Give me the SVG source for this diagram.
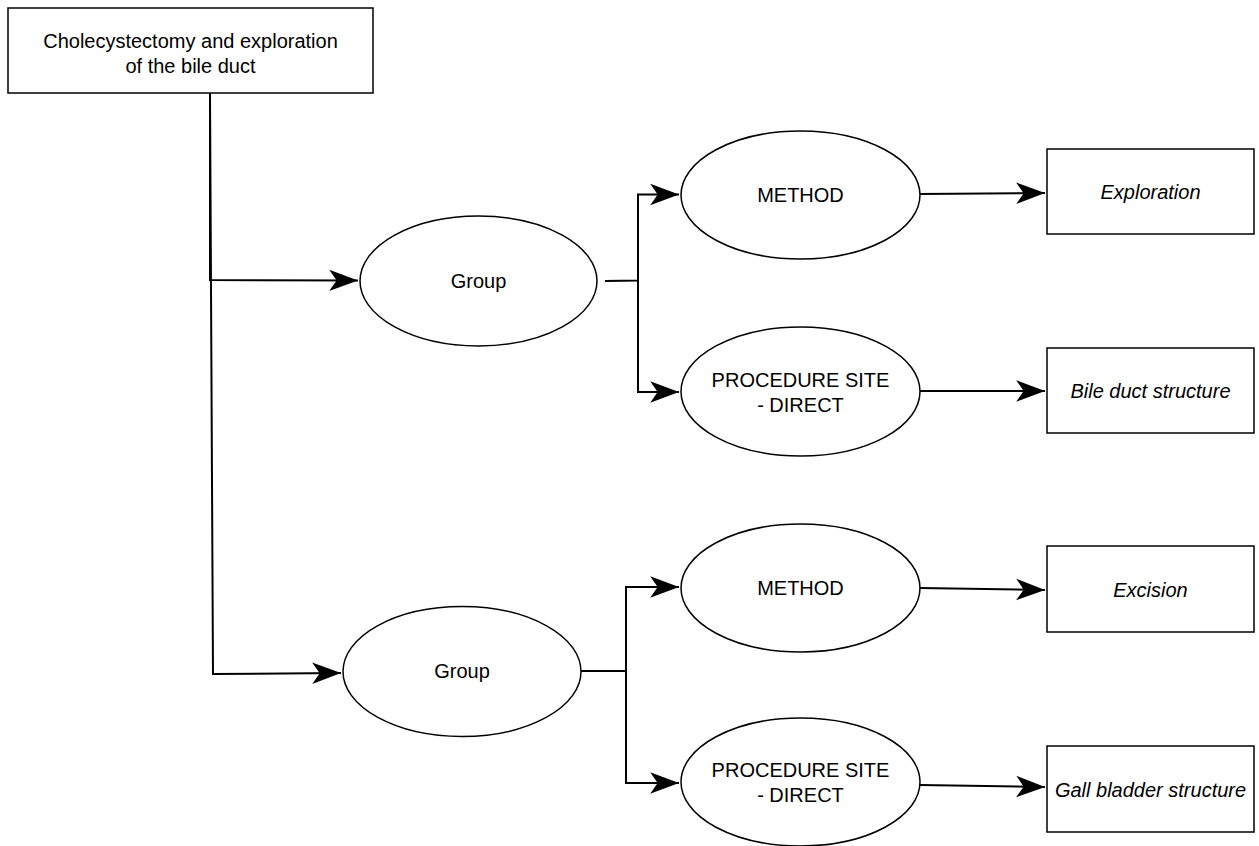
<svg xmlns="http://www.w3.org/2000/svg" width="1259" height="846" viewBox="0 0 1259 846">
<defs>
<style>
.n{fill:#fff;stroke:#000;stroke-width:1.5}
.t{font-family:"Liberation Sans",Arial,sans-serif;font-size:20px;fill:#000;text-anchor:middle}
.i{font-style:italic}
.c{fill:none;stroke:#000;stroke-width:2}
</style>
<marker id="ah" markerUnits="userSpaceOnUse" markerWidth="32" markerHeight="32" viewBox="-28 -11 30 22" refX="0" refY="0" orient="auto">
<path d="M0,0 L-27,-10 L-20,0 L-27,10 Z" fill="#000"/>
</marker>
</defs>
<rect width="1259" height="846" fill="#fff"/>
<g id="connectors">
<polyline class="c" points="210,93 210,280 358,280.5" marker-end="url(#ah)"/>
<polyline class="c" points="210,93 213,674 341,673" marker-end="url(#ah)"/>
<polyline class="c" points="605,281 638,280.5 638,194.5 679,194.5" marker-end="url(#ah)"/>
<polyline class="c" points="638,280.5 638,392 679,392" marker-end="url(#ah)"/>
<polyline class="c" points="581,671 626,671 626,587 679,587" marker-end="url(#ah)"/>
<polyline class="c" points="626,671 626,783 679,783" marker-end="url(#ah)"/>
<line class="c" x1="920" y1="194" x2="1045" y2="193" marker-end="url(#ah)"/>
<line class="c" x1="920" y1="391" x2="1045" y2="391" marker-end="url(#ah)"/>
<line class="c" x1="920" y1="588" x2="1045" y2="590" marker-end="url(#ah)"/>
<line class="c" x1="920" y1="785" x2="1045" y2="787" marker-end="url(#ah)"/>
</g>
<g id="root">
<rect class="n" x="8" y="8" width="365" height="85"/>
<text class="t" x="190.5" y="48">Cholecystectomy and exploration</text>
<text class="t" x="190.5" y="73">of the bile duct</text>
</g>
<g id="group1">
<ellipse class="n" cx="478.5" cy="281" rx="118.5" ry="65"/>
<text class="t" x="478.5" y="288">Group</text>
</g>
<g id="group2">
<ellipse class="n" cx="462" cy="671.5" rx="119" ry="65"/>
<text class="t" x="462" y="678">Group</text>
</g>
<g id="method1">
<ellipse class="n" cx="800.5" cy="195" rx="119.5" ry="64"/>
<text class="t" x="800.5" y="202">METHOD</text>
</g>
<g id="site1">
<ellipse class="n" cx="800.5" cy="391.5" rx="119.5" ry="64.5"/>
<text class="t" x="800.5" y="387">PROCEDURE SITE</text>
<text class="t" x="800.5" y="412">- DIRECT</text>
</g>
<g id="method2">
<ellipse class="n" cx="800.5" cy="588" rx="119.5" ry="64"/>
<text class="t" x="800.5" y="595">METHOD</text>
</g>
<g id="site2">
<ellipse class="n" cx="800.5" cy="782" rx="119.5" ry="64"/>
<text class="t" x="800.5" y="777">PROCEDURE SITE</text>
<text class="t" x="800.5" y="802">- DIRECT</text>
</g>
<g id="exploration">
<rect class="n" x="1047" y="149" width="207" height="85"/>
<text class="t i" x="1150.5" y="199">Exploration</text>
</g>
<g id="bileduct">
<rect class="n" x="1047" y="348" width="207" height="85"/>
<text class="t i" x="1150.5" y="398">Bile duct structure</text>
</g>
<g id="excision">
<rect class="n" x="1047" y="546" width="207" height="86"/>
<text class="t i" x="1150.5" y="597">Excision</text>
</g>
<g id="gallbladder">
<rect class="n" x="1047" y="746" width="207" height="86"/>
<text class="t i" x="1150.5" y="797">Gall bladder structure</text>
</g>
</svg>
